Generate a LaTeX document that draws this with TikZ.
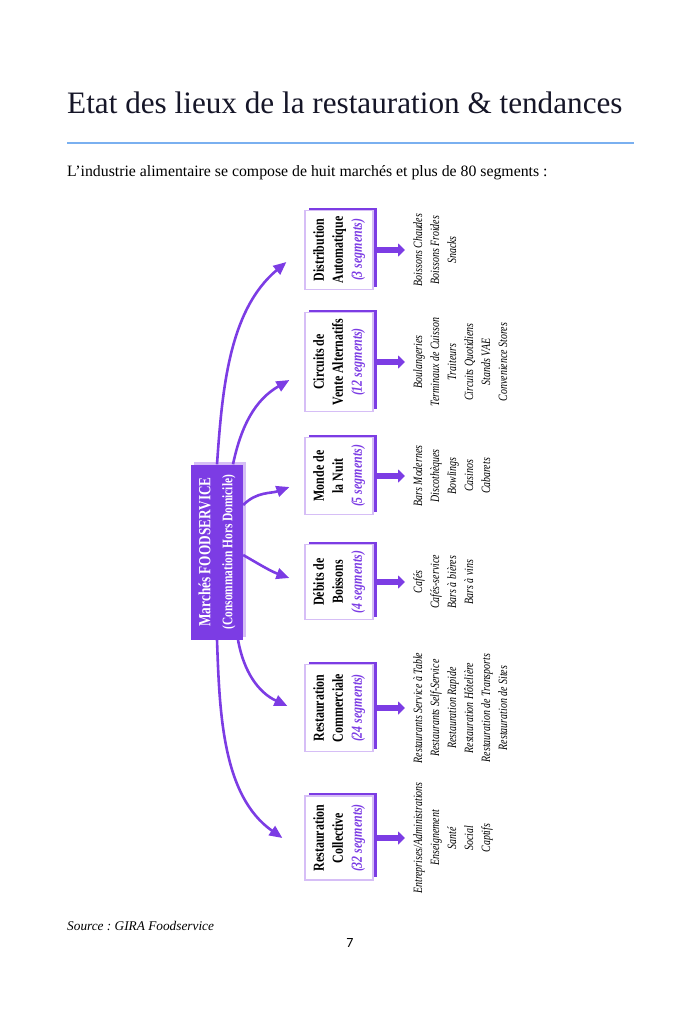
\documentclass[tikz,border=0pt]{standalone}
\usepackage{fontspec}
\setmainfont{Liberation Serif}
\newfontfamily\narrowfont[FakeStretch=0.78]{Liberation Serif}
\newfontfamily\pagefont{Carlito}
\usepackage{graphicx}
\usetikzlibrary{arrows.meta,shadows}
\definecolor{fsviolet}{RGB}{124,60,228}
\definecolor{fslavender}{RGB}{214,190,246}
\definecolor{fsrule}{RGB}{122,176,240}
\definecolor{fsink}{RGB}{22,22,40}
\tikzset{
	segbox/.style={draw=fslavender, line width=1.2pt, fill=white, minimum width=68pt, inner sep=0pt,
		font=\narrowfont\bfseries\fontsize{15.3}{19}\selectfont,
		drop shadow={shadow xshift=4pt, shadow yshift=3pt, fill=fsviolet, opacity=1}},
	hubbox/.style={fill=fsviolet, text=white, inner sep=0pt,
		font=\narrowfont\bfseries\fontsize{17}{22}\selectfont,
		drop shadow={shadow xshift=3pt, shadow yshift=3pt, fill=fslavender, opacity=1}},
	seglist/.style={anchor=west, inner sep=0pt, font=\narrowfont\itshape\fontsize{12.7}{17}\selectfont},
	curvearrow/.style={draw=fsviolet, line width=2.6pt, -{Triangle[length=13pt,width=11pt]}},
	fatarrow/.style={draw=fsviolet, line width=5.5pt, -{Triangle[length=7pt,width=13pt]}, shorten <=3pt, shorten >=5pt},
}
\newcommand{\segs}[1]{{\color{fsviolet}\itshape(#1 segments)}}
\newcommand{\vlines}[1]{\rotatebox{90}{\begin{tabular}{@{}c@{}}#1\end{tabular}}}

\begin{document}
\frenchspacing
\begin{tikzpicture}[x=1pt, y=-1pt]
	\useasboundingbox (0,0) rectangle (700,1028);

	%%%%% PAGE %%%%%
	\node[anchor=base west, inner sep=0pt, text=fsink, font=\fontsize{31.2}{36}\selectfont] (title) at (67,113) {Etat des lieux de la restauration \& tendances};
	\draw[fsrule, line width=2pt] (67,143) -- (634,143);
	\node[anchor=base west, inner sep=0pt, font=\fontsize{15.8}{19}\selectfont] (intro) at (67,176) {L’industrie alimentaire se compose de huit marchés et plus de 80 segments :};
	\node[anchor=base west, inner sep=0pt, font=\itshape\fontsize{13.3}{16}\selectfont] (source) at (67,930) {Source : GIRA Foodservice};
	\node[anchor=base, inner sep=0pt, font=\pagefont\fontsize{14}{16}\selectfont] (pagenum) at (350,947) {7};

	%%%%% HUB %%%%%
	\node[hubbox, minimum width=52pt, minimum height=175pt] (hub) at (217,552) {\vlines{Marchés FOODSERVICE\\{\fontsize{14.6}{22}\selectfont(Consommation Hors Domicile)}}};

	%%%%% MARKETS %%%%%
	\node[segbox, minimum height=79pt] (distrib) at (339,250) {\vlines{Distribution\\Automatique\\\segs{3}}};
	\node[segbox, minimum height=99pt] (circuits) at (339,362) {\vlines{Circuits de\\Vente Alternatifs\\\segs{12}}};
	\node[segbox, minimum height=77pt] (monde) at (339,476) {\vlines{Monde de\\la Nuit\\\segs{5}}};
	\node[segbox, minimum height=75pt] (debits) at (339,582) {\vlines{Débits de\\Boissons\\\segs{4}}};
	\node[segbox, minimum height=87pt] (commerciale) at (339,708) {\vlines{Restauration\\Commerciale\\\segs{24}}};
	\node[segbox, minimum height=84pt] (collective) at (339,838) {\vlines{Restauration\\Collective\\\segs{32}}};

	%%%%% SEGMENTS %%%%%
	\node[seglist] (distriblist) at (410,250) {\vlines{Boissons Chaudes\\Boissons Froides\\Snacks}};
	\node[seglist] (circuitslist) at (410,362) {\vlines{Boulangeries\\Terminaux de Cuisson\\Traiteurs\\Circuits Quotidiens\\Stands VAE\\Convenience Stores}};
	\node[seglist] (mondelist) at (410,476) {\vlines{Bars Modernes\\Discothèques\\Bowlings\\Casinos\\Cabarets}};
	\node[seglist] (debitslist) at (410,582) {\vlines{Cafés\\Cafés-service\\Bars à bières\\Bars à vins}};
	\node[seglist] (commercialelist) at (410,708) {\vlines{Restaurants Service à Table\\Restaurants Self-Service\\Restauration Rapide\\Restauration Hôtelière\\Restauration de Transports\\Restauration de Sites}};
	\node[seglist] (collectivelist) at (410,838) {\vlines{Entreprises/Administrations\\Enseignement\\Santé\\Social\\Captifs}};

	\draw[fatarrow] (distrib) -- (distriblist);
	\draw[fatarrow] (circuits) -- (circuitslist);
	\draw[fatarrow] (monde) -- (mondelist);
	\draw[fatarrow] (debits) -- (debitslist);
	\draw[fatarrow] (commerciale) -- (commercialelist);
	\draw[fatarrow] (collective) -- (collectivelist);

	%%%%% CURVES %%%%%
	\draw[curvearrow] (hub.north) to[out=86, in=220, looseness=0.9] ([xshift=-18pt, yshift=-12pt]distrib.west);
	\draw[curvearrow] ([xshift=16pt]hub.north) to[out=78, in=210] ([xshift=-15pt, yshift=-18pt]circuits.west);
	\draw[curvearrow] ([yshift=47pt]hub.east) to[out=45, in=200] ([xshift=-15pt, yshift=-11pt]monde.west);
	\draw[curvearrow] ([yshift=-3pt]hub.east) to[out=-30, in=160] ([xshift=-15pt, yshift=4pt]debits.west);
	\draw[curvearrow] ([xshift=21pt]hub.south) to[out=-80, in=155] ([xshift=-17pt, yshift=2pt]commerciale.west);
	\draw[curvearrow] (hub.south) to[out=-88, in=145, looseness=0.9] ([xshift=-22pt, yshift=0pt]collective.west);
\end{tikzpicture}
\end{document}
